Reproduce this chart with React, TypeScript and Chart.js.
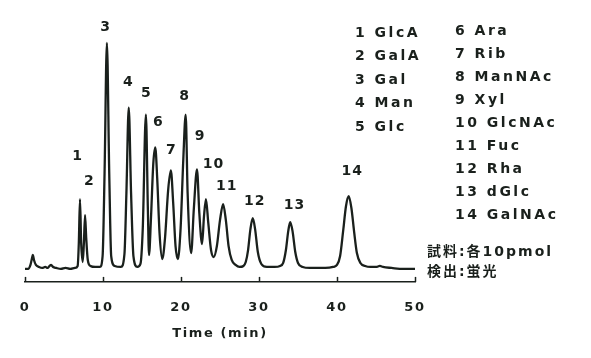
import { useEffect, useRef } from 'react';
import { Chart, registerables } from 'chart.js';

Chart.register(...registerables);

// Chromatogram trace (time in min, detector signal above baseline)
const times = [
  0, 0.4, 0.7, 0.9, 1.0, 1.15, 1.4, 1.8, 2.2, 2.6, 2.9, 3.15, 3.35, 3.6, 4.0, 4.6, 5.2, 5.8, 6.4,
  6.75, 6.9, 7.05, 7.2, 7.4, 7.55, 7.7, 7.85, 8.05, 8.4, 9.0, 9.6,
  9.95, 10.2, 10.5, 10.8, 11.05, 11.5, 12.3,
  12.75, 13.0, 13.3, 13.6, 13.9, 14.4,
  14.8, 15.1, 15.5, 15.75, 15.9, 16.15, 16.45, 16.7, 16.95, 17.25, 17.6,
  17.95, 18.35, 18.7, 19.0, 19.3, 19.6,
  19.95, 20.3, 20.6, 20.85, 21.3, 21.65, 22.05, 22.35, 22.7, 22.95, 23.2, 23.5, 23.85, 24.2,
  24.6, 25.0, 25.4, 25.75, 26.1, 26.5, 27.0, 27.5,
  28.0, 28.3, 28.6, 28.9, 29.2, 29.5, 29.85, 30.3, 31.0, 32.0,
  32.7, 33.1, 33.45, 33.75, 34.0, 34.3, 34.65, 35.0, 35.6, 36.5, 37.5, 38.5, 39.5,
  40.0, 40.4, 40.8, 41.15, 41.5, 41.85, 42.2, 42.55, 43.0, 43.6, 44.3, 45.0, 45.5, 45.9, 47.0, 48.5, 50,
];
const signal = [
  -1, -1, 3, 10, 13, 8, 3, 1, 0, 1, 0, 2, 3, 1, 0, -1, 0, -1, 0,
  2, 25, 69, 25, 6, 25, 53, 30, 8, 2, 1, 1,
  12, 95, 226, 95, 12, 2, 1,
  14, 75, 161, 75, 12, 1,
  4, 40, 154, 60, 13, 50, 105, 121, 90, 35, 9,
  30, 78, 98, 65, 22, 9,
  40, 110, 154, 75, 15, 60, 99, 55, 24, 52, 69, 45, 18, 11,
  22, 48, 64, 48, 22, 8, 3, 1,
  2, 6, 18, 39, 50, 39, 16, 4, 1, 1,
  2, 5, 18, 37, 46, 37, 16, 5, 1, 0, 0, 0, 1,
  3, 12, 38, 62, 72, 60, 36, 15, 5, 2, 1, 1, 2, 1, 0, -1, -1,
];

const xTicks = [0, 10, 20, 30, 40, 50];

// peak number labels, anchored in data space
const peakNumbers = ['1', '2', '3', '4', '5', '6', '7', '8', '9', '10', '11', '12', '13', '14'];
const labelTimes = [6.67, 8.2, 10.26, 13.2, 15.5, 17.05, 18.7, 20.4, 22.4, 24.1, 25.8, 29.4, 34.5, 41.9];
const labelHeights = [112, 87, 242, 186, 175, 146, 118, 172, 132, 104, 82, 67, 63, 97];

const legendCol1 = ['1 GlcA', '2 GalA', '3 Gal', '4 Man', '5 Glc'];
const legendCol2 = ['6 Ara', '7 Rib', '8 ManNAc', '9 Xyl', '10 GlcNAc', '11 Fuc', '12 Rha', '13 dGlc', '14 GalNAc'];
const notes = ['試料:各10pmol', '検出:蛍光'];

const FONT = '"DejaVu Sans", "Noto Sans CJK JP", sans-serif';
const INK = '#1a201c';

const overlay = {
  id: 'overlay',
  beforeDraw(chart: any) {
    chart.ctx.letterSpacing = '1.6px';
  },
  afterDraw(chart: any) {
    const { ctx, chartArea } = chart;
    const x = chart.scales.x;
    const y = chart.scales.y;
    ctx.save();
    ctx.strokeStyle = INK;
    ctx.lineWidth = 1.5;
    for (const v of xTicks) {
      const px = Math.round(x.getPixelForValue(v)) + 0.5;
      ctx.beginPath();
      ctx.moveTo(px, chartArea.bottom - 5);
      ctx.lineTo(px, chartArea.bottom);
      ctx.stroke();
    }
    ctx.fillStyle = INK;
    ctx.font = `bold 14px ${FONT}`;
    ctx.textAlign = 'center';
    ctx.textBaseline = 'middle';
    ctx.letterSpacing = '1px';
    peakNumbers.forEach((n, i) => {
      ctx.fillText(n, x.getPixelForValue(labelTimes[i]) + 0.5, y.getPixelForValue(labelHeights[i]));
    });
    ctx.textAlign = 'left';
    ctx.letterSpacing = '2.5px';
    legendCol1.forEach((s, i) => ctx.fillText(s, 355, 33 + i * 23.5));
    legendCol2.forEach((s, i) => ctx.fillText(s, 455, 31 + i * 23));
    ctx.letterSpacing = '2px';
    notes.forEach((s, i) => ctx.fillText(s, 427, 252 + i * 20));
    ctx.restore();
  },
};

export default function App() {
  const ref = useRef<HTMLCanvasElement | null>(null);
  useEffect(() => {
    const canvas = ref.current;
    if (!canvas) return;
    const chart = new Chart(canvas, {
      type: 'line',
      data: {
        datasets: [
          {
            data: times.map((t, i) => ({ x: t, y: signal[i] })),
            borderColor: INK,
            borderWidth: 2.3,
            pointRadius: 0,
            fill: false,
            cubicInterpolationMode: 'monotone',
          },
        ],
      },
      options: {
        responsive: false,
        animation: false,
        devicePixelRatio: 1,
        layout: { padding: { left: 25, right: 176, top: 29, bottom: 16.7 } },
        plugins: { legend: { display: false }, tooltip: { enabled: false } },
        scales: {
          x: {
            type: 'linear',
            min: 0,
            max: 50,
            afterBuildTicks: (s: any) => {
              s.ticks = xTicks.map((v) => ({ value: v }));
            },
            ticks: {
              autoSkip: false,
              maxRotation: 0,
              padding: 0,
              color: INK,
              font: { family: FONT, size: 13, weight: 'bold' },
            },
            grid: {
              display: true,
              drawOnChartArea: false,
              drawTicks: true,
              tickLength: 17.7,
              tickColor: 'rgba(0,0,0,0)',
            },
            border: { display: true, color: INK, width: 1.5 },
            title: {
              display: true,
              text: 'Time (min)',
              color: INK,
              font: { family: FONT, size: 13, weight: 'bold' },
              padding: { top: 10.5, bottom: 0 },
            },
          },
          y: { display: false, min: -14, max: 240 },
        },
      },
      plugins: [overlay],
    } as any);
    return () => chart.destroy();
  }, []);
  return (
    <div style={{ position: 'absolute', left: 0, top: 0, width: 591, height: 358, background: '#fff' }}>
      <canvas ref={ref} width={591} height={358} />
    </div>
  );
}
